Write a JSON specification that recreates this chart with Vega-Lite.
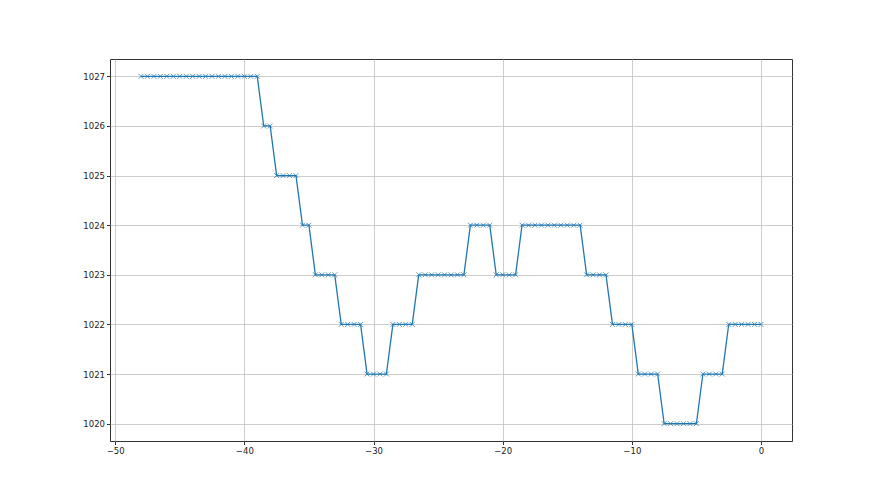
{
  "$schema": "https://vega.github.io/schema/vega-lite/v6.json",
  "width": 682,
  "height": 382,
  "autosize": {"type": "none"},
  "padding": {"left": 110, "top": 59, "right": 88, "bottom": 54},
  "background": "white",
  "config": {
    "view": {"stroke": "#333333", "strokeWidth": 1},
    "axis": {
      "labelFont": "DejaVu Sans",
      "labelFontSize": 8.5,
      "labelColor": "#222222",
      "gridColor": "#c0c0c0",
      "gridWidth": 0.8,
      "domain": false,
      "tickColor": "#333333",
      "tickSize": 3.5,
      "labelPadding": 2
    }
  },
  "data": {
    "values": [
      {"x": -48, "y": 1027}, {"x": -47.5, "y": 1027}, {"x": -47, "y": 1027}, {"x": -46.5, "y": 1027},
      {"x": -46, "y": 1027}, {"x": -45.5, "y": 1027}, {"x": -45, "y": 1027}, {"x": -44.5, "y": 1027},
      {"x": -44, "y": 1027}, {"x": -43.5, "y": 1027}, {"x": -43, "y": 1027}, {"x": -42.5, "y": 1027},
      {"x": -42, "y": 1027}, {"x": -41.5, "y": 1027}, {"x": -41, "y": 1027}, {"x": -40.5, "y": 1027},
      {"x": -40, "y": 1027}, {"x": -39.5, "y": 1027}, {"x": -39, "y": 1027},
      {"x": -38.5, "y": 1026}, {"x": -38, "y": 1026},
      {"x": -37.5, "y": 1025}, {"x": -37, "y": 1025}, {"x": -36.5, "y": 1025}, {"x": -36, "y": 1025},
      {"x": -35.5, "y": 1024}, {"x": -35, "y": 1024},
      {"x": -34.5, "y": 1023}, {"x": -34, "y": 1023}, {"x": -33.5, "y": 1023}, {"x": -33, "y": 1023},
      {"x": -32.5, "y": 1022}, {"x": -32, "y": 1022}, {"x": -31.5, "y": 1022}, {"x": -31, "y": 1022},
      {"x": -30.5, "y": 1021}, {"x": -30, "y": 1021}, {"x": -29.5, "y": 1021}, {"x": -29, "y": 1021},
      {"x": -28.5, "y": 1022}, {"x": -28, "y": 1022}, {"x": -27.5, "y": 1022}, {"x": -27, "y": 1022},
      {"x": -26.5, "y": 1023}, {"x": -26, "y": 1023}, {"x": -25.5, "y": 1023}, {"x": -25, "y": 1023},
      {"x": -24.5, "y": 1023}, {"x": -24, "y": 1023}, {"x": -23.5, "y": 1023}, {"x": -23, "y": 1023},
      {"x": -22.5, "y": 1024}, {"x": -22, "y": 1024}, {"x": -21.5, "y": 1024}, {"x": -21, "y": 1024},
      {"x": -20.5, "y": 1023}, {"x": -20, "y": 1023}, {"x": -19.5, "y": 1023}, {"x": -19, "y": 1023},
      {"x": -18.5, "y": 1024}, {"x": -18, "y": 1024}, {"x": -17.5, "y": 1024}, {"x": -17, "y": 1024},
      {"x": -16.5, "y": 1024}, {"x": -16, "y": 1024}, {"x": -15.5, "y": 1024}, {"x": -15, "y": 1024},
      {"x": -14.5, "y": 1024}, {"x": -14, "y": 1024},
      {"x": -13.5, "y": 1023}, {"x": -13, "y": 1023}, {"x": -12.5, "y": 1023}, {"x": -12, "y": 1023},
      {"x": -11.5, "y": 1022}, {"x": -11, "y": 1022}, {"x": -10.5, "y": 1022}, {"x": -10, "y": 1022},
      {"x": -9.5, "y": 1021}, {"x": -9, "y": 1021}, {"x": -8.5, "y": 1021}, {"x": -8, "y": 1021},
      {"x": -7.5, "y": 1020}, {"x": -7, "y": 1020}, {"x": -6.5, "y": 1020}, {"x": -6, "y": 1020},
      {"x": -5.5, "y": 1020}, {"x": -5, "y": 1020},
      {"x": -4.5, "y": 1021}, {"x": -4, "y": 1021}, {"x": -3.5, "y": 1021}, {"x": -3, "y": 1021},
      {"x": -2.5, "y": 1022}, {"x": -2, "y": 1022}, {"x": -1.5, "y": 1022}, {"x": -1, "y": 1022},
      {"x": -0.5, "y": 1022}, {"x": 0, "y": 1022}
    ]
  },
  "encoding": {
    "x": {
      "field": "x", "type": "quantitative",
      "scale": {"domain": [-50.4, 2.4], "nice": false, "zero": false},
      "axis": {"title": null, "values": [-50, -40, -30, -20, -10, 0], "grid": true}
    },
    "y": {
      "field": "y", "type": "quantitative",
      "scale": {"domain": [1019.65, 1027.35], "nice": false, "zero": false},
      "axis": {"title": null, "values": [1020, 1021, 1022, 1023, 1024, 1025, 1026, 1027], "grid": true, "format": "d"}
    }
  },
  "layer": [
    {
      "mark": {"type": "line", "color": "#1f77b4", "strokeWidth": 1.3}
    },
    {
      "mark": {
        "type": "point",
        "shape": "M-1,-1L1,1M-1,1L1,-1",
        "size": 24,
        "filled": false,
        "stroke": "#1f77b4",
        "strokeWidth": 1,
        "opacity": 0.7
      }
    }
  ]
}
